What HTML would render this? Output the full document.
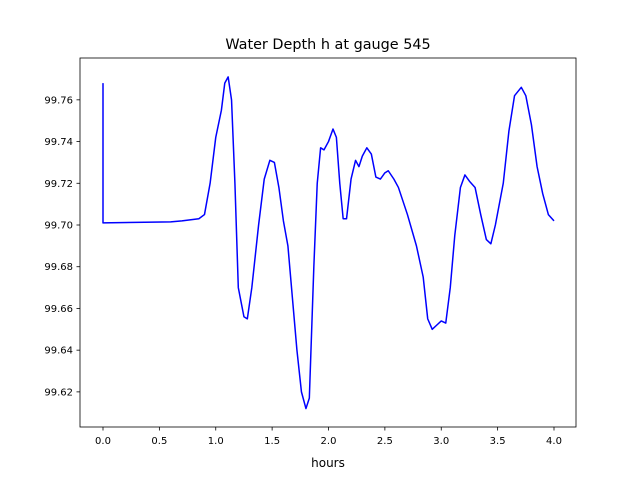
<!DOCTYPE html>
<html><head><meta charset="utf-8"><style>
html,body{margin:0;padding:0;background:#fff;}
svg text{font-family:"DejaVu Sans","Liberation Sans",sans-serif;fill:#000;}
</style></head><body>
<svg id="chart" width="640" height="480" viewBox="0 0 640 480">
<rect width="640" height="480" fill="#fff"/>
<text x="328" y="49" font-size="14.4" text-anchor="middle">Water Depth h at gauge 545</text>
<g id="plot"></g>
<text x="328" y="467" font-size="12" text-anchor="middle">hours</text>
</svg>
<script>
const hours=[0,0,0.6,0.7,0.85,0.9,0.95,1.0,1.05,1.08,1.11,1.14,1.17,1.2,1.25,1.28,1.32,1.38,1.43,1.48,1.52,1.56,1.6,1.64,1.68,1.72,1.76,1.8,1.83,1.87,1.9,1.93,1.96,2.0,2.04,2.07,2.1,2.13,2.16,2.2,2.24,2.27,2.3,2.34,2.38,2.42,2.46,2.5,2.53,2.58,2.62,2.7,2.78,2.84,2.88,2.92,2.96,3.0,3.04,3.08,3.12,3.17,3.21,3.25,3.3,3.35,3.4,3.44,3.48,3.55,3.6,3.65,3.71,3.75,3.8,3.85,3.9,3.95,4.0];
const depth=[99.768,99.701,99.7015,99.702,99.703,99.705,99.72,99.742,99.755,99.768,99.771,99.76,99.72,99.67,99.656,99.655,99.67,99.70,99.722,99.731,99.73,99.718,99.702,99.69,99.665,99.64,99.62,99.612,99.617,99.68,99.72,99.737,99.736,99.74,99.746,99.742,99.72,99.703,99.703,99.722,99.731,99.728,99.733,99.737,99.734,99.723,99.722,99.725,99.726,99.722,99.718,99.705,99.69,99.675,99.655,99.65,99.652,99.654,99.653,99.67,99.695,99.718,99.724,99.721,99.718,99.705,99.693,99.691,99.70,99.72,99.745,99.762,99.766,99.762,99.748,99.728,99.715,99.705,99.702];
const xTicks=[0,0.5,1.0,1.5,2.0,2.5,3.0,3.5,4.0];
const xTickLabels=["0.0","0.5","1.0","1.5","2.0","2.5","3.0","3.5","4.0"];
const yTicks=[99.62,99.64,99.66,99.68,99.70,99.72,99.74,99.76];
const yTickLabels=["99.62","99.64","99.66","99.68","99.70","99.72","99.74","99.76"];

const L=80,R=576,T=58,B=427;
const X=v=>103+v*112.75;
const Y=v=>225-(v-99.70)*2086;
const NS="http://www.w3.org/2000/svg";
const g=document.getElementById('plot');
function el(t,a){const e=document.createElementNS(NS,t);for(const k in a)e.setAttribute(k,a[k]);g.appendChild(e);return e;}

const pts=hours.map((h,i)=>X(h).toFixed(2)+','+Y(depth[i]).toFixed(2)).join(' ');
const line=el('polyline',{points:pts,fill:'none',stroke:'#0000ff','stroke-width':1.5,'stroke-linejoin':'round'});



const frame=el('rect',{x:L,y:T,width:R-L,height:B-T,fill:'none',stroke:'#000','stroke-width':0.8});



xTicks.forEach((v,i)=>{
  const tk=el('line',{x1:X(v),x2:X(v),y1:B,y2:B+3.5,stroke:'#000','stroke-width':0.8});
  
  
  const t=el('text',{x:X(v),y:B+17,'font-size':10,'text-anchor':'middle'});
  t.textContent=xTickLabels[i];
  
  
});
yTicks.forEach((v,i)=>{
  const tk=el('line',{x1:L-3.5,x2:L,y1:Y(v),y2:Y(v),stroke:'#000','stroke-width':0.8});
  
  
  const t=el('text',{x:L-7,y:Y(v)+3.5,'font-size':10,'text-anchor':'end'});
  t.textContent=yTickLabels[i];
  
  
});
</script>
</body></html>
